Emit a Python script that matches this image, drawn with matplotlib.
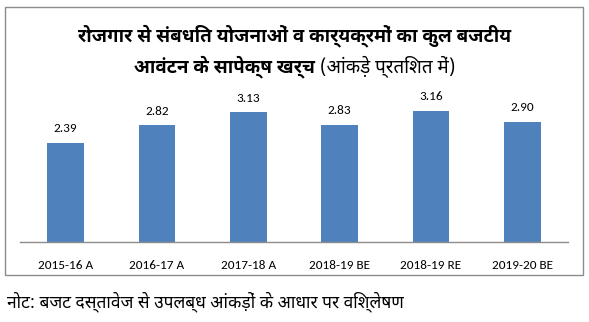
import matplotlib
matplotlib.use("Agg")
import matplotlib.pyplot as plt
from matplotlib.patches import Rectangle

# Expenditure relative to total budget allocation for employment-related schemes (%)
categories = ["2015-16 A", "2016-17 A", "2017-18 A", "2018-19 BE", "2018-19 RE", "2019-20 BE"]
values = [2.39, 2.82, 3.13, 2.83, 3.16, 2.90]

title_line1 = "रोजगार से संबधित योजनाओं व कार्यक्रमों का कुल बजटीय"
title_line2_bold = "आवंटन के सापेक्ष खर्च "
title_line2_unit = "(आंकड़े प्रतिशत में)"
note = "नोट: बजट दस्तावेज से उपलब्ध आंकड़ों के आधार पर विश्लेषण"

DEVA_BOLD = ["Noto Sans Devanagari UI", "Noto Sans Devanagari", "DejaVu Sans"]
DEVA = ["Noto Sans Devanagari", "Noto Sans Devanagari UI", "DejaVu Sans"]
LATIN = ["Carlito", "Lato", "DejaVu Sans"]

W, H = 589, 322
fig = plt.figure(figsize=(W / 100, H / 100), dpi=100)

# outer chart frame
fig.patches.append(Rectangle((5 / W, 1 - 275 / H), 578 / W, 268 / H,
                             transform=fig.transFigure, fill=False,
                             edgecolor="#8c8c8c", linewidth=1.0))

ymax = 3.5
ax = fig.add_axes([20 / W, 1 - 242 / H, 548 / W, ymax * 41.5 / H])
x = range(len(categories))
bars = ax.bar(x, values, width=0.4, color="#4f81bd")
ax.set_xlim(-0.5, len(categories) - 0.5)
ax.set_ylim(0, ymax)

for s in ["top", "right", "left"]:
    ax.spines[s].set_visible(False)
ax.spines["bottom"].set_color("#8c8c8c")
ax.spines["bottom"].set_linewidth(1.0)
ax.set_yticks([])
ax.set_xticks(list(x))
ax.set_xticklabels(categories, fontsize=9.5, family=LATIN, color="#000000")
ax.tick_params(axis="x", length=0, pad=13)

for b, v in zip(bars, values):
    ax.annotate(f"{v:.2f}", (b.get_x() + b.get_width() / 2, v),
                xytext=(0, 10), textcoords="offset points",
                ha="center", va="center", fontsize=9.5, family=LATIN)

fig.text(0.5, 1 - 36 / H, title_line1, ha="center", va="center",
         fontsize=13.5, fontweight="bold", family=DEVA_BOLD)

# second title line: bold caption followed by a regular-weight unit note
y2 = 1 - 67 / H
t_bold = fig.text(0, y2, title_line2_bold, ha="left", va="center",
                  fontsize=13.5, fontweight="bold", family=DEVA_BOLD)
t_unit = fig.text(0, y2, title_line2_unit, ha="left", va="center",
                  fontsize=13.5, family=DEVA)
renderer = fig.canvas.get_renderer()
wb = t_bold.get_window_extent(renderer).width
wu = t_unit.get_window_extent(renderer).width
x0 = (W - (wb + wu)) / 2
t_bold.set_x(x0 / W)
t_unit.set_x((x0 + wb) / W)

fig.text(7 / W, 1 - 302 / H, note, ha="left", va="center",
         fontsize=12.5, family=DEVA)

fig.savefig("out.png", dpi=100)
